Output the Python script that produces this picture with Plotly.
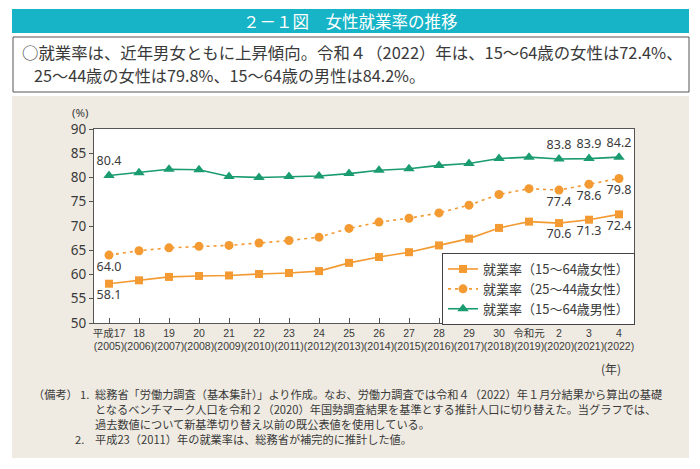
import plotly.graph_objects as go

# ---- data ----
years_wareki = ["平成17", "18", "19", "20", "21", "22", "23", "24", "25", "26",
                "27", "28", "29", "30", "令和元", "2", "3", "4"]
years_ad = ["2005", "2006", "2007", "2008", "2009", "2010", "2011", "2012", "2013",
            "2014", "2015", "2016", "2017", "2018", "2019", "2020", "2021", "2022"]
women_15_64 = [58.1, 58.8, 59.5, 59.7, 59.8, 60.1, 60.3, 60.7, 62.4, 63.6,
               64.6, 66.0, 67.4, 69.6, 70.9, 70.6, 71.3, 72.4]
women_25_44 = [64.0, 64.9, 65.5, 65.8, 66.0, 66.5, 67.0, 67.7, 69.5, 70.8,
               71.6, 72.7, 74.3, 76.5, 77.7, 77.4, 78.6, 79.8]
men_15_64 = [80.4, 81.0, 81.7, 81.6, 80.2, 80.0, 80.2, 80.3, 80.8, 81.5,
             81.8, 82.5, 82.9, 83.9, 84.2, 83.8, 83.9, 84.2]
series_names = ["就業率（15～64歳女性）", "就業率（25～44歳女性）", "就業率（15～64歳男性）"]
labeled_idx = [0, 15, 16, 17]

categories = [f"{w}<br>({a})" for w, a in zip(years_wareki, years_ad)]

# ---- layout geometry (reference pixels; page body adds an 8px offset) ----
OFF = 8
W, H = 700 - OFF, 469 - OFF
L, R, T, B = 94 - OFF, 634 - OFF, 129 - OFF, 323 - OFF
def px(x):
    return (x - OFF - L) / (R - L)
def py(y):
    return (B - (y - OFF)) / (B - T)

ORANGE = "#f39a32"
GREEN = "#1a9b70"
TXT = "#3a3a3a"
CJK = "Noto Sans CJK JP"
NUMF = "Noto Sans, Noto Sans CJK JP"
TICKF = "Liberation Sans, Noto Sans CJK JP"

def labels(vals):
    return [f"{v:.1f}" if i in labeled_idx else "" for i, v in enumerate(vals)]

fig = go.Figure()
fig.add_trace(go.Scatter(
    x=categories, y=women_15_64, name=series_names[0], mode="lines+markers+text",
    line=dict(color=ORANGE, width=1.6), marker=dict(symbol="square", size=8, color=ORANGE),
    text=labels(women_15_64), textposition="bottom center",
    textfont=dict(family=NUMF, size=12.5, color=TXT)))
fig.add_trace(go.Scatter(
    x=categories, y=women_25_44, name=series_names[1], mode="lines+markers+text",
    line=dict(color=ORANGE, width=1.6, dash="3px,4px"), marker=dict(symbol="circle", size=9, color=ORANGE),
    text=labels(women_25_44), textposition="bottom center",
    textfont=dict(family=NUMF, size=12.5, color=TXT)))
fig.add_trace(go.Scatter(
    x=categories, y=men_15_64, name=series_names[2], mode="lines+markers+text",
    line=dict(color=GREEN, width=1.6), marker=dict(symbol="triangle-up", size=10, color=GREEN),
    text=labels(men_15_64), textposition="top center",
    textfont=dict(family=NUMF, size=12.5, color=TXT)))

shapes = [
    dict(type="rect", xref="paper", yref="paper", x0=px(12), x1=px(689), y0=py(9), y1=py(33),
         fillcolor="#16b4c6", line=dict(width=0), layer="below"),
    dict(type="rect", xref="paper", yref="paper", x0=px(13), x1=px(689), y0=py(37), y1=py(92),
         fillcolor="white", line=dict(color="#555555", width=1), layer="below"),
    dict(type="rect", xref="paper", yref="paper", x0=px(12), x1=px(689), y0=py(96), y1=py(458),
         fillcolor="#efebe2", line=dict(width=0), layer="below"),
    dict(type="rect", xref="paper", yref="paper", x0=0, x1=1, y0=0, y1=1,
         fillcolor="white", line=dict(width=0), layer="below"),
]

NOTE = dict(family=CJK, size=11.2, color=TXT)
ann = [
    dict(text="２－１図　女性就業率の推移", x=px(350), y=py(21), font=dict(family=CJK, size=16.5, color="white"),
         xanchor="center", yanchor="middle"),
    dict(text="○就業率は、近年男女ともに上昇傾向。令和４（2022）年は、15～64歳の女性は72.4%、",
         x=px(20), y=py(52), font=dict(family=CJK, size=16.4, color=TXT), xanchor="left", yanchor="middle"),
    dict(text="25～44歳の女性は79.8%、15～64歳の男性は84.2%。",
         x=px(32), y=py(75), font=dict(family=CJK, size=16.2, color=TXT), xanchor="left", yanchor="middle"),
    dict(text="(%)", x=px(80), y=py(112), font=dict(family=NUMF, size=11.5, color=TXT),
         xanchor="center", yanchor="middle"),
    dict(text="(年)", x=px(611), y=py(368), font=dict(family=CJK, size=12, color=TXT),
         xanchor="center", yanchor="middle"),
    dict(text="（備考）", x=px(31), y=py(394), font=NOTE, xanchor="left", yanchor="middle"),
    dict(text="1.", x=px(78), y=py(394), font=NOTE, xanchor="left", yanchor="middle"),
    dict(text="総務省「労働力調査（基本集計）」より作成。なお、労働力調査では令和４（2022）年１月分結果から算出の基礎",
         x=px(93), y=py(394), font=NOTE, xanchor="left", yanchor="middle"),
    dict(text="となるベンチマーク人口を令和２（2020）年国勢調査結果を基準とする推計人口に切り替えた。当グラフでは、",
         x=px(93), y=py(409), font=NOTE, xanchor="left", yanchor="middle"),
    dict(text="過去数値について新基準切り替え以前の既公表値を使用している。",
         x=px(93), y=py(424), font=NOTE, xanchor="left", yanchor="middle"),
    dict(text="2.", x=px(73), y=py(439), font=NOTE, xanchor="left", yanchor="middle"),
    dict(text="平成23（2011）年の就業率は、総務省が補完的に推計した値。",
         x=px(93), y=py(439), font=NOTE, xanchor="left", yanchor="middle"),
]
for a in ann:
    a.update(xref="paper", yref="paper", showarrow=False)

fig.update_layout(
    width=W, height=H,
    margin=dict(l=L, r=W - R, t=T, b=H - B, pad=0),
    paper_bgcolor="white", plot_bgcolor="white",
    shapes=shapes, annotations=ann,
    showlegend=True,
    legend=dict(x=px(442), y=py(253), xanchor="left", yanchor="top",
                bgcolor="white", bordercolor="#444444", borderwidth=1,
                font=dict(family=CJK, size=13, color=TXT), itemwidth=30, tracegroupgap=0),
    xaxis=dict(type="category", range=[-0.5, 17.5], showline=True, linecolor="#555555", linewidth=1,
               mirror=True, ticks="inside", ticklen=5, tickcolor="#555555", showgrid=False,
               tickfont=dict(family=TICKF, size=10.5, color=TXT), tickangle=0, zeroline=False),
    yaxis=dict(range=[50, 90], dtick=5, showline=True, linecolor="#555555", linewidth=1,
               mirror=True, ticks="outside", ticklen=4, tickcolor="#555555", showgrid=False,
               tickfont=dict(family=NUMF, size=13.5, color=TXT), zeroline=False),
)

fig.write_html("out.html")
